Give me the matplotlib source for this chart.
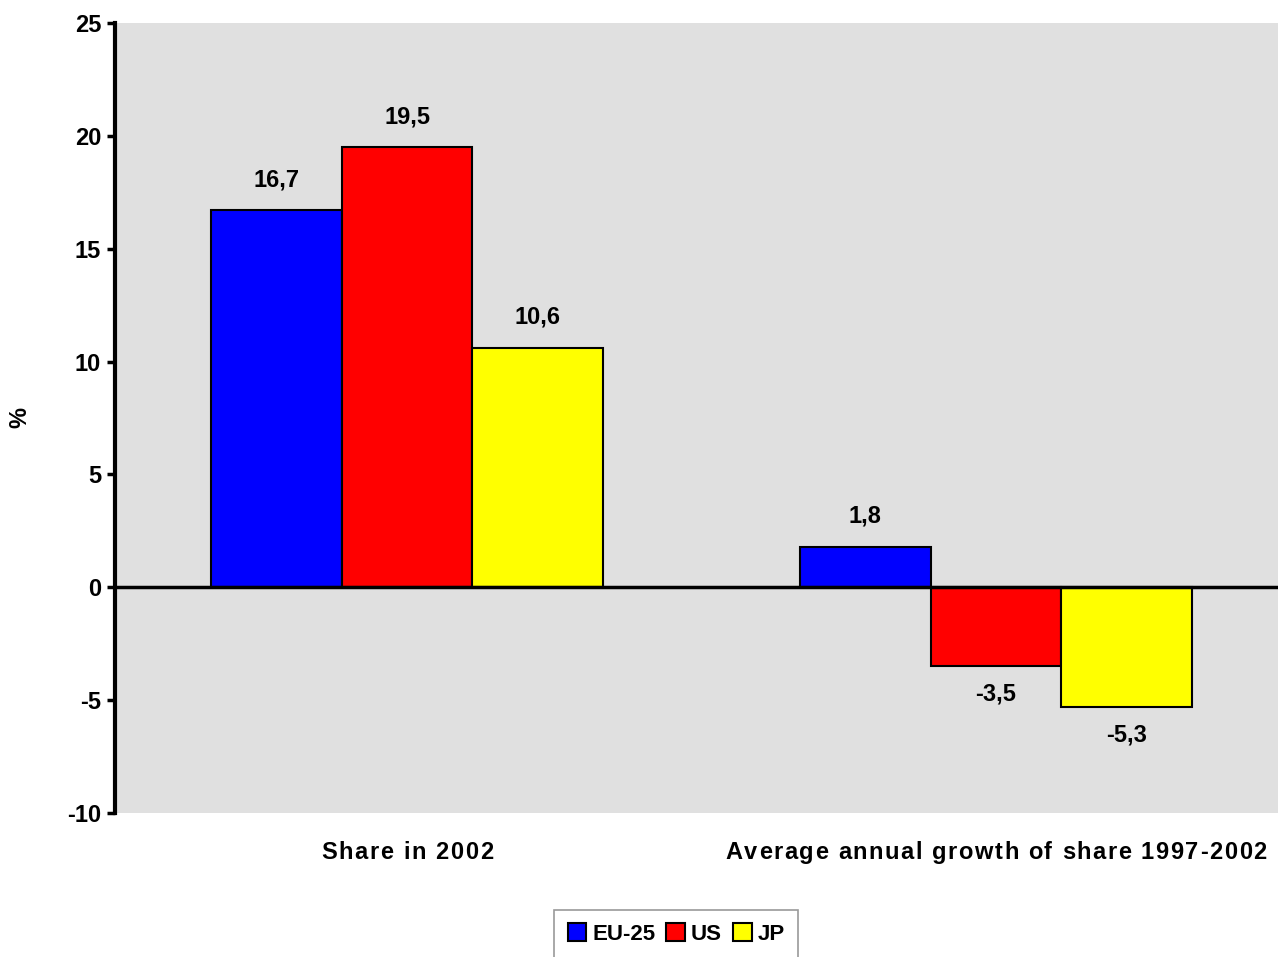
import matplotlib.pyplot as plt
import matplotlib.transforms as mtransforms
from matplotlib import font_manager, ft2font
import numpy as np

plt.rcParams['font.family'] = ['Liberation Sans', 'DejaVu Sans']
plt.rcParams['font.weight'] = 'bold'

categories = ['Share in 2002', 'Average annual growth of share 1997-2002']
series_labels = ['EU-25', 'US', 'JP']
series_values = [
    [16.7, 1.8],
    [19.5, -3.5],
    [10.6, -5.3],
]
series_colors = ['#0000ff', '#ff0000', '#ffff00']
y_ticks = [-10, -5, 0, 5, 10, 15, 20, 25]

FS = 17


def spaced_label(ax, xpos, s, size=FS, spacing=1.15, y_off=-33):
    """Write a category label under the axis with a little extra tracking."""
    prop = font_manager.FontProperties(family='Liberation Sans', weight='bold')
    font = ft2font.FT2Font(font_manager.findfont(prop))
    font.set_size(size, 72)
    advances = []
    for c in s:
        g = font.load_char(ord(c), flags=ft2font.LoadFlags.NO_HINTING)
        advances.append(g.linearHoriAdvance / 65536)
    total = sum(advances) + spacing * (len(s) - 1)
    base = mtransforms.blended_transform_factory(ax.transData, ax.transAxes)
    pos = -total / 2
    for c, adv in zip(s, advances):
        if c != ' ':
            tr = mtransforms.offset_copy(base, fig=ax.figure, x=pos, y=y_off, units='points')
            ax.text(xpos, 0, c, transform=tr, ha='left', va='baseline',
                    fontsize=size, fontweight='bold', clip_on=False)
        pos += adv + spacing


fig = plt.figure(figsize=(12.78, 9.57), dpi=100)
ax = fig.add_axes([0.09, 0.1505, 0.91, 0.8255])
ax.set_facecolor('#e0e0e0')

x = np.arange(len(categories))
width = 0.222
offsets = [-width, 0, width]

for i, (label, vals) in enumerate(zip(series_labels, series_values)):
    bars = ax.bar(x + offsets[i], vals, width, color=series_colors[i],
                  edgecolor='black', linewidth=1.5, label=label, zorder=2)
    for b, v in zip(bars, vals):
        cx = b.get_x() + b.get_width() / 2
        dy = 22 if v >= 0 else -20
        ax.annotate(('%.1f' % v).replace('.', ','), (cx, v), xytext=(0, dy),
                    textcoords='offset points', ha='center', va='center',
                    fontsize=FS, fontweight='bold')

ax.axhline(0, color='black', linewidth=2.5, zorder=3)

ax.set_xlim(-0.496, 1.479)
ax.set_ylim(-10, 25)
ax.set_yticks(y_ticks)
ax.set_yticklabels([str(t) for t in y_ticks], fontsize=FS, fontweight='bold')
ax.set_xticks([])
ax.tick_params(axis='y', length=6, width=2.5, direction='out', pad=4)

for xi, cat in zip(x, categories):
    spaced_label(ax, xi, cat)

for side in ['top', 'right', 'bottom']:
    ax.spines[side].set_visible(False)
ax.spines['left'].set_linewidth(3)

ax.set_ylabel('%', fontsize=FS, fontweight='bold')
ax.yaxis.set_label_coords(-0.072, 0.5)

leg = fig.legend(loc='upper center', bbox_to_anchor=(0.529, 0.049), ncol=3,
                 fontsize=16, frameon=True, fancybox=False, edgecolor='#808080',
                 handlelength=0.85, handleheight=0.85, handletextpad=0.25,
                 columnspacing=0.5, borderpad=0.6, borderaxespad=0)
leg.get_frame().set_linewidth(1.2)

fig.savefig('out.png', dpi=100)
